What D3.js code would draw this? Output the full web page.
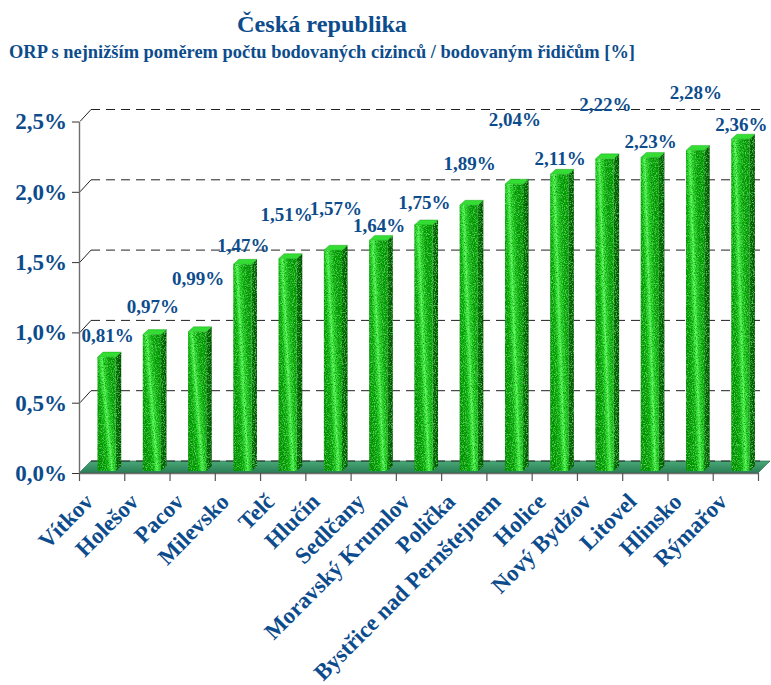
<!DOCTYPE html>
<html>
<head>
<meta charset="utf-8">
<script src="https://cdn.jsdelivr.net/npm/d3@7"></script>
<style>
  html, body { margin: 0; padding: 0; background: #ffffff; }
  svg { display: block; }
  text { font-family: "Liberation Serif", "Times New Roman", serif; font-weight: bold; }
</style>
</head>
<body>
<svg id="chart" width="771" height="685"></svg>
<script>
// ORP with the lowest share of penalised foreign drivers among all penalised drivers
const categories = ["Vítkov", "Holešov", "Pacov", "Milevsko", "Telč", "Hlučín", "Sedlčany",
  "Moravský Krumlov", "Polička", "Bystřice nad Pernštejnem", "Holice", "Nový Bydžov",
  "Litovel", "Hlinsko", "Rýmařov"];
const values = [0.81, 0.97, 0.99, 1.47, 1.51, 1.57, 1.64, 1.75, 1.89, 2.04, 2.11, 2.22, 2.23, 2.28, 2.36];
const yTicks = [0, 0.5, 1.0, 1.5, 2.0, 2.5];
const yTickLabels = ["0,0%", "0,5%", "1,0%", "1,5%", "2,0%", "2,5%"];
const titleText = "Česká republika";
const subtitleText = "ORP s nejnižším poměrem počtu bodovaných cizinců / bodovaným řidičům [%]";

const BLUE = "#0d4c8c";
const svg = d3.select("#chart");
svg.append("rect").attr("width", 771).attr("height", 685).attr("fill", "#ffffff");

// plot frame
const left = 79, right = 758, depth = 12;
const x = d3.scaleBand().domain(categories).range([left, right]).padding(0);
const y = d3.scaleLinear().domain([0, 2.5]).range([473, 121.5]);
const bw = x.bandwidth();
const fmt = v => d3.format(".2f")(v).replace(".", ",") + "%";

// ---------- defs: gradients and grain ----------
const defs = svg.append("defs");
const front = defs.append("linearGradient").attr("id", "barFront")
  .attr("x1", 0).attr("y1", 0.6).attr("x2", 1).attr("y2", 0);
[[0, "#0c9a0c"], [0.25, "#14b414"], [0.36, "#3cf03c"], [0.42, "#6aff6a"], [0.49, "#2ee02e"],
 [0.68, "#12a812"], [1, "#0f9c0f"]]
  .forEach(([o, c]) => front.append("stop").attr("offset", o).attr("stop-color", c));

const side = defs.append("linearGradient").attr("id", "barSide")
  .attr("x1", 0).attr("y1", 0).attr("x2", 1).attr("y2", 0);
[[0, "#0a700a"], [1, "#044004"]]
  .forEach(([o, c]) => side.append("stop").attr("offset", o).attr("stop-color", c));

const floorG = defs.append("linearGradient").attr("id", "floorFill")
  .attr("x1", 0).attr("y1", 0).attr("x2", 0).attr("y2", 1);
[[0, "#4aa878"], [1, "#2a7d55"]]
  .forEach(([o, c]) => floorG.append("stop").attr("offset", o).attr("stop-color", c));

const grain = defs.append("filter").attr("id", "grain")
  .attr("x", 0).attr("y", 0).attr("width", 1).attr("height", 1);
grain.append("feTurbulence").attr("type", "fractalNoise").attr("baseFrequency", 0.9)
  .attr("numOctaves", 2).attr("seed", 7).attr("result", "noise");
grain.append("feColorMatrix").attr("in", "noise").attr("type", "matrix")
  .attr("values", "0 0 0 0 0  0 0 0 0 0.2  0 0 0 0 0  2.2 0 0 0 -0.9").attr("result", "dark");
grain.append("feColorMatrix").attr("in", "noise").attr("type", "matrix")
  .attr("values", "0 0 0 0 0.15  0 0 0 0 0.95  0 0 0 0 0.15  0 2.0 0 0 -1.0").attr("result", "light");
grain.append("feComposite").attr("in", "dark").attr("in2", "SourceGraphic").attr("operator", "in").attr("result", "darkIn");
grain.append("feComposite").attr("in", "light").attr("in2", "SourceGraphic").attr("operator", "in").attr("result", "lightIn");
const merge = grain.append("feMerge");
merge.append("feMergeNode").attr("in", "SourceGraphic");
merge.append("feMergeNode").attr("in", "darkIn");
merge.append("feMergeNode").attr("in", "lightIn");

// ---------- title ----------
svg.append("text").attr("x", 322).attr("y", 32).attr("text-anchor", "middle")
  .attr("font-size", 24).attr("fill", BLUE)
  .attr("textLength", 170).attr("lengthAdjust", "spacingAndGlyphs").text(titleText);
svg.append("text").attr("x", 322).attr("y", 58).attr("text-anchor", "middle")
  .attr("font-size", 19).attr("fill", BLUE)
  .attr("textLength", 626).attr("lengthAdjust", "spacingAndGlyphs").text(subtitleText);

// ---------- floor ----------
svg.append("path")
  .attr("d", `M${left},${y(0)} L${left + depth},${y(0) - depth} L${right + depth},${y(0) - depth} L${right},${y(0)} Z`)
  .attr("fill", "url(#floorFill)").attr("stroke", "#1d5e3e").attr("stroke-width", 0.6);

// ---------- gridlines (back wall) ----------
const grid = svg.append("g");
yTicks.forEach(t => {
  const yy = y(t);
  if (t > 0) {
    grid.append("path").attr("d", `M${left + 1},${yy} L${left + depth},${yy - depth}`)
      .attr("stroke", "#222").attr("stroke-width", 1).attr("fill", "none");
  }
  grid.append("line")
    .attr("x1", left + depth).attr("x2", right + depth - 4)
    .attr("y1", yy - depth).attr("y2", yy - depth)
    .attr("stroke", "#222").attr("stroke-width", 1).attr("stroke-dasharray", "9,6");
});

// ---------- axes ----------
const yAxis = d3.axisLeft(y).tickValues(yTicks)
  .tickFormat((d, i) => yTickLabels[i]).tickSize(7).tickSizeOuter(0).tickPadding(5);
const gy = svg.append("g").attr("transform", `translate(${left},0)`).call(yAxis);
gy.select(".domain").attr("stroke", "#6e6e6e").attr("stroke-width", 1.4);
gy.selectAll(".tick line").attr("stroke", "#333");
gy.selectAll(".tick text").attr("font-size", 23).attr("fill", BLUE)
  .attr("font-family", "Liberation Serif").attr("font-weight", "bold");

const xTickScale = d3.scaleLinear().domain([0, categories.length]).range([left, right]);
const xAxis = d3.axisBottom(xTickScale).tickValues(d3.range(categories.length + 1))
  .tickFormat("").tickSize(8).tickSizeOuter(0);
const gx = svg.append("g").attr("transform", `translate(0,${y(0)})`).call(xAxis);
gx.select(".domain").attr("stroke", "#6e6e6e").attr("stroke-width", 1.4);
gx.selectAll(".tick line").attr("stroke", "#555").attr("stroke-width", 1.2);

// ---------- 3D bars ----------
const bd = 5.5, bh = 5;          // bar side depth
const lift = 2;                   // bars stand slightly behind the floor's front edge
const bars = svg.append("g");
categories.forEach((c, i) => {
  const v = values[i];
  const fx = x(c) + bw * 0.41;
  const w = bw * 0.4;
  const base = y(0) - lift;
  const top = y(v) - lift;
  const g = bars.append("g");
  // side face
  g.append("path")
    .attr("d", `M${fx + w},${top} L${fx + w + bd},${top - bh} L${fx + w + bd},${base - bh} L${fx + w},${base} Z`)
    .attr("fill", "url(#barSide)").attr("filter", "url(#grain)");
  // top face
  g.append("path")
    .attr("d", `M${fx},${top} L${fx + bd},${top - bh} L${fx + w + bd},${top - bh} L${fx + w},${top} Z`)
    .attr("fill", "#33dd33").attr("stroke", "#129a12").attr("stroke-width", 0.4);
  // front face
  g.append("rect").attr("x", fx).attr("y", top).attr("width", w).attr("height", base - top)
    .attr("fill", "url(#barFront)").attr("filter", "url(#grain)");
});

// ---------- value labels ----------
const labelLift = [22, 28, 53, 19, 44, 42, 15, 23, 42, 65, 16, 55, 16, 58, 15];
const labelShift = [0, 0, 0, 0, -2, 2, 0, 0, 0, 0, 0, 0, 0, 0, 0];
svg.append("g").selectAll("text").data(values).join("text")
  .attr("x", (d, i) => x(categories[i]) + bw * 0.63 + labelShift[i])
  .attr("y", (d, i) => y(d) - lift - labelLift[i])
  .attr("dy", "0.35em")
  .attr("text-anchor", "middle")
  .attr("font-size", 19).attr("fill", BLUE)
  .text(d => fmt(d));

// ---------- category labels ----------
svg.append("g").selectAll("text").data(categories).join("text")
  .attr("transform", d => `translate(${x(d) + bw / 2 - 7},503) rotate(-45)`)
  .attr("text-anchor", "end")
  .attr("font-size", 23).attr("fill", BLUE)
  .text(d => d);
</script>
</body>
</html>
